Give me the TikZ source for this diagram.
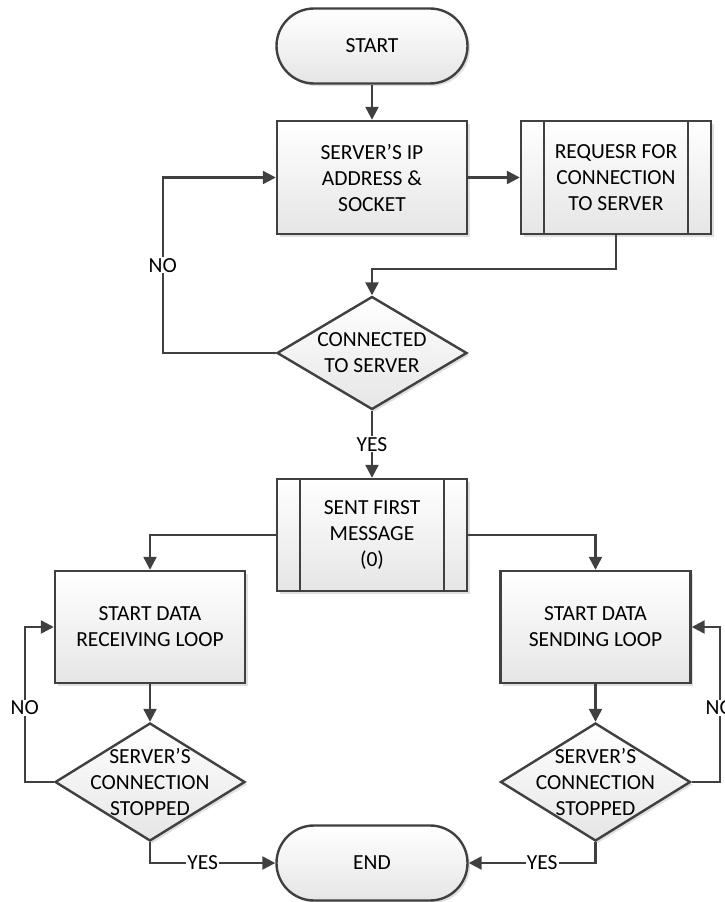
\documentclass[tikz,border=0pt]{standalone}
\usepackage{fontspec}
\setmainfont{Carlito}
\usepackage{xcolor}
\usepackage{tikz}
\usetikzlibrary{positioning}
\usetikzlibrary{arrows.meta}
\usetikzlibrary{shapes.geometric}
\usetikzlibrary{shadows}
\definecolor{linegray}{RGB}{64,64,64}
\tikzset{edge/.style = {->,> = {Triangle[length=13pt,width=13pt]},draw=linegray,line width=2.4pt}}

\begin{document}
\begin{tikzpicture}[x=1pt,y=-1pt,on grid,thick,
        every node/.style={font=\fontsize{21.5}{26}\selectfont,align=center},
        main node/.style={draw=linegray,line width=2.4pt,top color=white,bottom color=black!10,
            drop shadow={shadow xshift=2.5pt,shadow yshift=-2.5pt,opacity=0.25}},
        term node/.style={main node,rectangle,rounded corners=37.5pt,minimum width=191pt,minimum height=75pt},
        box node/.style={main node,rectangle,minimum width=190pt,minimum height=112pt},
        sub node/.style={box node,path picture={
            \draw[linegray,line width=2.4pt]
                ([xshift=23pt]path picture bounding box.north west) -- ([xshift=23pt]path picture bounding box.south west)
                ([xshift=-23pt]path picture bounding box.north east) -- ([xshift=-23pt]path picture bounding box.south east);}},
        test node/.style={main node,diamond,aspect=1.6,inner sep=-10pt,minimum width=190pt,minimum height=118pt},
        tag/.style={fill=white,inner sep=1pt}]

    \useasboundingbox (0,0) rectangle (724,902);

    \node[term node] (1) at (372,46) {START};
    \node[box node,minimum height=113pt] (2) [below=131.5pt of 1] {SERVER’S IP\\ADDRESS \&\\SOCKET};
    \node[sub node,minimum height=113pt] (3) [right=244pt of 2] {REQUESR FOR\\CONNECTION\\TO SERVER};
    \node[test node,minimum height=113pt] (4) [below=175.5pt of 2] {CONNECTED\\TO SERVER};
    \node[sub node] (5) [below=182pt of 4] {SENT FIRST\\MESSAGE\\(0)};
    \node[box node] (6) [below left=92pt and 222pt of 5] {START DATA\\RECEIVING LOOP};
    \node[box node] (7) [below right=92pt and 223.5pt of 5] {START DATA\\SENDING LOOP};
    \node[test node] (8) [below=155pt of 6] {SERVER’S\\CONNECTION\\STOPPED};
    \node[test node] (9) [below=155pt of 7] {SERVER’S\\CONNECTION\\STOPPED};
    \node[term node] (10) [below=328pt of 5] {END};

    \draw[edge] (1) -- (2);
    \draw[edge] (2) -- (3);
    \draw[edge] (3.south) -- ++(0,34) -| (4.north);
    \draw[edge] (4.west) -- ++(-113,0) |- (2.west) node[tag,pos=0.25] {NO};
    \draw[edge] (4) -- node[tag] {YES} (5);

    % both loops start from the message box
    \draw[edge] (5.west) -| (6.north);
    \draw[edge] (5.east) -| (7.north);
    \draw[edge] (6) -- (8);
    \draw[edge] (7) -- (9);
    \draw[edge] (8.west) -- ++(-29,0) |- (6.west) node[tag,pos=0.24] {NO};
    \draw[edge] (9.east) -- ++(28,0) |- (7.east) node[tag,pos=0.24] {NO};
    %\draw[edge] (8.south) -- (10.west);
    \draw[edge] (8.south) |- (10.west) node[tag,pos=0.71] {YES};
    \draw[edge] (9.south) |- (10.east) node[tag,pos=0.71] {YES};
\end{tikzpicture}
\end{document}
